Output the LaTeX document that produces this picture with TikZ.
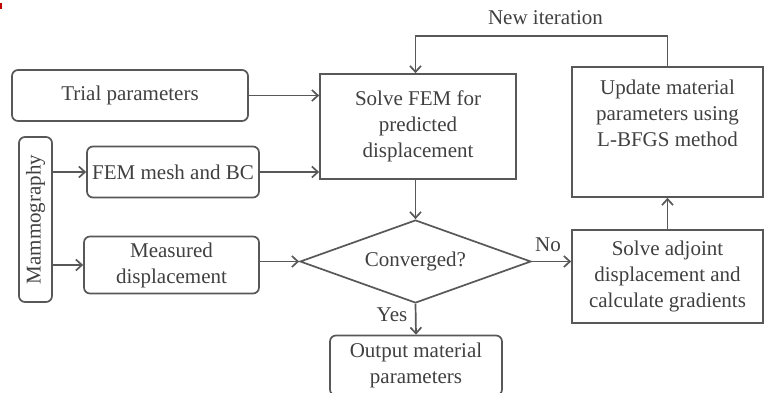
\documentclass[tikz,border=0pt]{standalone}
\usepackage{fontspec}
\setmainfont{Liberation Serif}
\usetikzlibrary{shapes.geometric,arrows.meta}

\definecolor{linegray}{RGB}{88,88,88}
\definecolor{textgray}{RGB}{64,64,64}

\tikzset{
  rbox/.style={draw=linegray, line width=1.7pt, rounded corners=6pt, fill=white,
    text=textgray, align=center, inner sep=0pt},
  sbox/.style={draw=linegray, line width=1.7pt, fill=white,
    text=textgray, align=center, inner sep=0pt},
  decision/.style={draw=linegray, line width=1.7pt, diamond, aspect=2.8, fill=white,
    text=textgray, inner sep=0pt, minimum width=231pt, minimum height=83pt},
  lbl/.style={text=textgray, inner sep=0pt},
  flow/.style={draw=linegray, line width=1.7pt, -{Straight Barb[length=6pt,width=11pt]}}
}

\begin{document}
\begin{tikzpicture}[x=1pt, y=-1pt, font=\fontsize{21}{26}\selectfont]
                \useasboundingbox (0,0) rectangle (765,393);
                \fill[red!75!black] (0,3) rectangle (2,9);
                % inputs on the left
                \node[rbox, minimum width=236pt, minimum height=51pt] (trial) at (130,95.5) {Trial parameters};
                \node[rbox, minimum width=33pt, minimum height=165pt] (mammo) at (35.5,219.5) {\rotatebox{90}{Mammography}};
                \node[rbox, minimum width=172pt, minimum height=51pt] (mesh) at (173,172) {FEM mesh and BC};
                \node[rbox, minimum width=175pt, minimum height=57pt] (meas) at (171.5,265) {Measured\\displacement};
                % main loop
                \node[sbox, minimum width=196pt, minimum height=105pt] (solve) at (418,126.5) {Solve FEM for\\predicted\\displacement};
                \node[decision] (conv) at (415.5,261.5) {Converged?};
                \node[rbox, minimum width=172pt, minimum height=60pt] (output) at (416,365.5) {Output material\\parameters};
                \node[sbox, minimum width=191pt, minimum height=93pt] (adjoint) at (667.5,276.5) {Solve adjoint\\displacement and\\calculate gradients};
                \node[sbox, minimum width=191pt, minimum height=130pt] (update) at (667.5,132) {Update material\\parameters using\\L-BFGS method\\[12pt]};
                % connectors
                \draw[flow] (trial.east) -- (solve.west |- trial.east);
                \draw[flow] (mesh.east) -- (solve.west |- mesh.east);
                \draw[flow] (mammo.east |- mesh.west) -- (mesh.west);
                \draw[flow] (mammo.east |- meas.west) -- (meas.west);
                \draw[flow] (meas.east |- conv.west) -- (conv.west);
                \draw[flow] (conv.north |- solve.south) -- (conv.north);
                \draw[flow] (conv.south) -- (output.north);
                \draw[flow] (conv.east) -- (conv.east -| adjoint.west);
                \draw[flow] (adjoint.north) -- (update.south);
                \coordinate (loop) at (update.north |- 0,36);
                \draw[flow] (update.north) -- (loop) -| (conv.north |- solve.north);
                % labels
                \node[lbl] (newit) at (545.5,18) {New iteration};
                \node[lbl] (no) at (548,245) {No};
                \node[lbl] (yes) at (392,315) {Yes};
            \end{tikzpicture}
\end{document}
